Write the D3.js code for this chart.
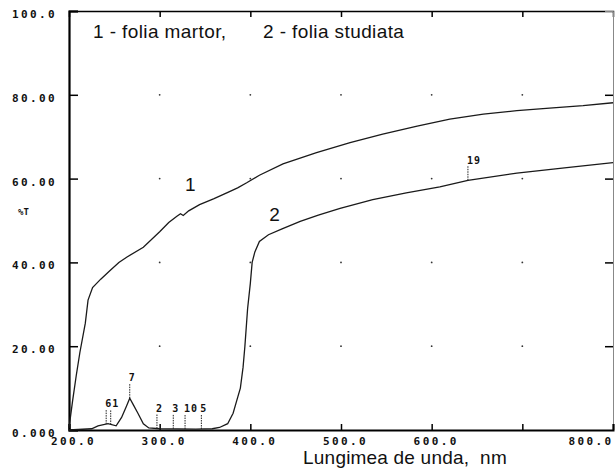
<!DOCTYPE html>
<html>
<head>
<meta charset="utf-8">
<script src="https://cdn.jsdelivr.net/npm/d3@7"></script>
<style>
    body { margin: 0; background: #fff; }
    .tickText { font-family: "DejaVu Sans Mono", monospace; font-weight: bold; font-size: 11px; letter-spacing: 2.4px; fill: #111; }
    .sansText { font-family: "Liberation Sans", Arial, sans-serif; fill: #111; white-space: pre; }
</style>
</head>
<body>
<script>
// wavelengths (nm) and %T
let martorNm = [200, 204, 208, 212, 218, 221, 226, 235, 245, 255, 264, 282, 300, 310, 319, 323, 326, 332, 344, 360, 374, 386, 396, 410, 436, 473, 510, 546, 584, 620, 657, 694, 730, 767, 800];
let martorT  = [0.5, 7, 13, 18.5, 25.5, 31, 34, 36, 38, 40, 41.3, 43.6, 47.3, 49.5, 51, 51.6, 51.2, 52.3, 53.8, 55.2, 56.6, 57.8, 59, 60.8, 63.5, 66.2, 68.6, 70.6, 72.5, 74.2, 75.4, 76.2, 76.8, 77.4, 78.1];

let studiataNm = [200, 225, 232, 243, 252, 258, 263, 267, 271, 276, 282, 288, 300, 340, 358, 366, 375, 381, 385, 389, 392, 394, 397, 400, 402, 405, 410, 420, 435, 455, 475, 499, 535, 572, 609, 640, 694, 749, 800];
let studiataT  = [0, 0.3, 1, 1.5, 1, 3, 5.5, 7.6, 6, 4, 1.5, 0.5, 0.3, 0.2, 0.3, 0.6, 1.5, 4, 7, 10, 15, 20, 29, 35, 40, 42.5, 45, 46.6, 48, 49.8, 51.3, 52.9, 55, 56.6, 58, 59.6, 61.3, 62.6, 63.8];

// peak marks printed by the instrument on curve 2 ("6" and "1" print as one "61")
let peakLabels = ["61", "", "7", "2", "3", "10", "5", "19"];
let peakNm     = [241, 246, 267, 297, 315, 328, 346, 640];

let xTicks = [200, 300, 400, 500, 600, 700, 800];
let xTickLabels = ["200.0", "300.0", "400.0", "500.0", "600.0", "", "800.0"];
let yTicks = [0, 20, 40, 60, 80, 100];
let yTickLabels = ["0.000", "20.00", "40.00", "60.00", "80.00", "100.0"];

function renderChart() {
    let svg = d3.select("body")
        .append("svg")
            .attr("width", 615)
            .attr("height", 470);

    let xScale = d3.scaleLinear()
        .domain([200, 800])
        .range([69, 613]);

    let yScale = d3.scaleLinear()
        .domain([0, 100])
        .range([430, 11]);

    // grid dots at tick crossings
    let dots = [];
    xTicks.slice(1, -1).forEach(xv => {
        yTicks.slice(1, -1).forEach(yv => dots.push([xv, yv]));
    });
    svg.selectAll("circle.gridDot")
        .data(dots)
        .enter()
            .append("circle")
            .attr("class", "gridDot")
            .attr("cx", d => xScale(d[0]))
            .attr("cy", d => yScale(d[1]))
            .attr("r", 0.9)
            .style("fill", "#333");

    // frame: top and right axes without labels
    svg.append("g")
        .attr("class", "topAxis")
        .attr("transform", `translate(0, ${yScale(100)})`)
        .call(d3.axisTop(xScale).tickValues(xTicks.slice(1, -1)).tickSize(-6).tickFormat(""))
        .call(g => g.select(".domain").attr("stroke-width", 1.5));

    svg.append("g")
        .attr("class", "rightAxis")
        .attr("transform", `translate(${xScale(800)}, 0)`)
        .call(d3.axisRight(yScale).tickValues(yTicks.slice(1, -1)).tickSize(-8).tickFormat(""))
        .call(g => g.select(".domain").attr("stroke", "#888").attr("stroke-width", 1));

    let yAxis = d3.axisLeft(yScale)
        .tickValues(yTicks)
        .tickSize(-9)
        .tickPadding(12)
        .tickFormat((d, i) => yTickLabels[i]);

    svg.append("g")
        .attr("class", "yAxis")
        .attr("transform", `translate(${xScale(200)}, 0)`)
        .call(yAxis)
        .call(g => g.select(".domain").attr("stroke-width", 2.2));

    svg.selectAll("g.yAxis g.tick text")
        .attr("class", "tickText")
        .attr("y", 3);

    let xAxis = d3.axisBottom(xScale)
        .tickValues(xTicks)
        .tickSize(-6)
        .tickPadding(7)
        .tickFormat((d, i) => xTickLabels[i]);

    svg.append("g")
        .attr("class", "xAxis")
        .attr("transform", `translate(0, ${yScale(0)})`)
        .call(xAxis)
        .call(g => g.select(".domain").attr("stroke-width", 2));

    svg.selectAll("g.xAxis g.tick text")
        .attr("class", "tickText")
        .attr("x", 4);

    // last label is pushed in so it stays on the page
    svg.selectAll("g.xAxis g.tick text")
        .filter(d => d === 800)
        .attr("text-anchor", "end")
        .attr("x", 0);

    svg.selectAll("g.tick line").attr("stroke-width", 1.5);

    // curves
    let line = d3.line()
        .x(d => xScale(d[0]))
        .y(d => yScale(d[1]));

    let series = [
        d3.zip(martorNm, martorT),
        d3.zip(studiataNm, studiataT)
    ];

    svg.selectAll("path.curve")
        .data(series)
        .enter()
            .append("path")
            .attr("class", "curve")
            .attr("d", line)
            .style("fill", "none")
            .style("stroke", "#1a1a1a")
            .style("stroke-width", 1.3);

    // peak markers
    let valueAt = nm => {
        let i = d3.bisectLeft(studiataNm, nm);
        if (i <= 0) return studiataT[0];
        let t = (nm - studiataNm[i - 1]) / (studiataNm[i] - studiataNm[i - 1]);
        return studiataT[i - 1] + t * (studiataT[i] - studiataT[i - 1]);
    };

    let peaks = peakLabels.map((p, i) => ({ label: p, nm: peakNm[i], t: valueAt(peakNm[i]) }));

    let marks = svg.selectAll("g.peak")
        .data(peaks)
        .enter()
            .append("g")
            .attr("class", "peak");

    marks.append("line")
        .attr("x1", d => xScale(d.nm))
        .attr("x2", d => xScale(d.nm))
        .attr("y1", d => yScale(d.t))
        .attr("y2", d => yScale(d.t + 3.4))
        .style("stroke", "#222")
        .style("stroke-width", 1)
        .style("stroke-dasharray", "1.5,1");

    marks.append("text")
        .attr("class", "tickText")
        .attr("x", d => xScale(d.nm) - 1)
        .attr("y", d => yScale(d.t + 4))
        .style("font-size", "10px")
        .style("letter-spacing", "1px")
        .text(d => d.label);

    // legend and curve labels
    svg.append("text")
        .attr("class", "sansText")
        .attr("x", 93).attr("y", 38)
        .style("font-size", "19px")
        .style("letter-spacing", "0.4px")
        .text("1 - folia martor,");

    svg.append("text")
        .attr("class", "sansText")
        .attr("x", 263).attr("y", 38)
        .style("font-size", "19px")
        .style("letter-spacing", "0.4px")
        .text("2 - folia studiata");

    svg.append("text")
        .attr("class", "sansText")
        .attr("x", xScale(328)).attr("y", yScale(57))
        .style("font-size", "19px")
        .text("1");

    svg.append("text")
        .attr("class", "sansText")
        .attr("x", xScale(421)).attr("y", yScale(49.8))
        .style("font-size", "19px")
        .text("2");

    svg.append("text")
        .attr("class", "tickText")
        .attr("x", 18).attr("y", 215)
        .style("font-size", "9px")
        .style("letter-spacing", "0px")
        .text("%T");

    svg.append("text")
        .attr("class", "sansText")
        .attr("x", 405).attr("y", 464)
        .attr("text-anchor", "middle")
        .style("font-size", "19px")
        .style("letter-spacing", "0.2px")
        .text("Lungimea de unda,  nm");
}

renderChart();
</script>
</body>
</html>
